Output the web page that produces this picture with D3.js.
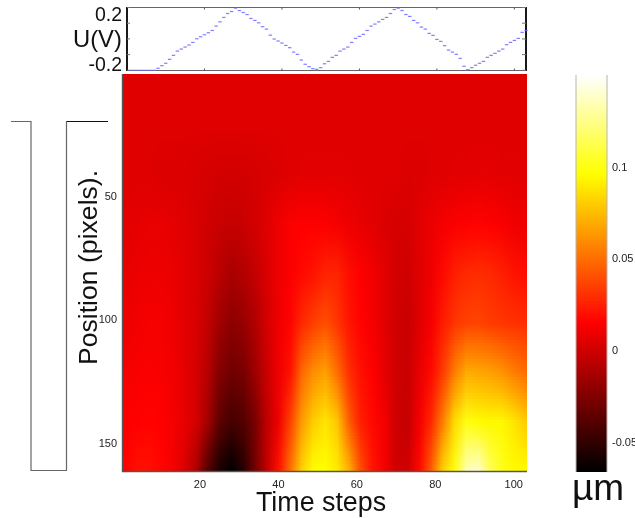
<!DOCTYPE html>
<html>
<head>
<meta charset="utf-8">
<script src="https://cdn.jsdelivr.net/npm/d3@7"></script>
<style>
    html, body { margin: 0; padding: 0; background: #fff; overflow: hidden; }
    #chart { position: relative; width: 635px; height: 518px; }
    #chart canvas, #chart svg { position: absolute; left: 0; top: 0; }
    text { font-family: "Liberation Sans", Arial, sans-serif; }
</style>
</head>
<body>
<div id="chart"></div>
<script>
// -> voltage, one value per time step (1..103)
var voltage = [
    -0.25, -0.25, -0.25, -0.25, -0.25, -0.25, -0.25, -0.234, -0.213, -0.194,
    -0.163, -0.131, -0.097, -0.081, -0.065, -0.049, -0.028, 0.001, 0.017, 0.033,
    0.049, 0.067, 0.102, 0.136, 0.171, 0.202, 0.218, 0.245, 0.226, 0.21,
    0.194, 0.163, 0.147, 0.128, 0.097, 0.078, 0.03, -0.001, -0.017, -0.033,
    -0.052, -0.07, -0.105, -0.123, -0.168, -0.202, -0.221, -0.237, -0.242, -0.229,
    -0.198, -0.179, -0.147, -0.131, -0.097, -0.081, -0.065, -0.028, 0.004, 0.02,
    0.036, 0.067, 0.102, 0.118, 0.136, 0.155, 0.171, 0.202, 0.234, 0.245,
    0.226, 0.194, 0.179, 0.147, 0.128, 0.094, 0.078, 0.044, 0.028, -0.004,
    -0.02, -0.054, -0.089, -0.105, -0.123, -0.155, -0.218, -0.245, -0.229, -0.21,
    -0.194, -0.179, -0.147, -0.131, -0.115, -0.097, -0.081, -0.046, -0.028, -0.012,
    0.004, 0.052, 0.067
];

// -> heat map samples, columns every 3 time steps, rows every 20 pixels
var timeSamples = [1, 4, 7, 10, 13, 16, 19, 22, 25, 28, 31, 34, 37, 40, 43, 46, 49, 52, 55, 58,
                   61, 64, 67, 70, 73, 76, 79, 82, 85, 88, 91, 94, 97, 100, 103];
var positionSamples = [1, 21, 41, 61, 81, 101, 121, 141, 161];

var row1 = [.005, .005, .005, .005, .005, .005, .005, .005, .005, .005, .005, .005, .005, .005, .005, .005, .005, .005, .005, .005,
            .005, .005, .005, .005, .005, .005, .005, .005, .005, .005, .005, .005, .005, .005, .005];
var row21 = [.005, .005, .005, .005, .005, .005, .005, .005, .005, .005, .005, .005, .005, .005, .005, .005, .005, .005, .005, .005,
             .005, .005, .005, .005, .005, .005, .005, .005, .005, .005, .005, .005, .005, .005, .005];
var row41 = [.005, .005, .005, .004, .004, .004, .003, .002, .001, .001, .001, .002, .003, .004, .005, .006, .006, .006, .006, .006,
             .005, .005, .005, .005, .004, .004, .005, .005, .006, .006, .007, .007, .006, .006, .006];
var row61 = [.006, .007, .008, .008, .007, .005, .003, .000, -.002, -.003, -.002, .001, .005, .010, .014, .015, .015, .014, .012, .010,
             .008, .006, .004, .002, .002, .006, .009, .012, .014, .015, .016, .015, .013, .011, .010];
var row81 = [.008, .009, .010, .010, .009, .006, .003, -.001, -.007, -.012, -.009, -.004, .003, .010, .014, .018, .021, .026, .026, .019,
             .015, .011, .006, .001, .000, .005, .010, .018, .025, .028, .029, .028, .025, .021, .019];
var row101 = [.010, .011, .012, .012, .010, .006, .003, -.004, -.015, -.021, -.018, -.010, .001, .010, .016, .028, .035, .040, .032, .022,
              .016, .012, .006, .000, -.002, .005, .012, .024, .032, .036, .037, .034, .032, .031, .030];
var row121 = [.012, .013, .014, .013, .011, .007, .002, -.008, -.024, -.030, -.028, -.016, -.002, .010, .020, .048, .060, .066, .050, .030,
              .020, .015, .007, .000, -.002, .008, .018, .034, .055, .070, .068, .066, .062, .055, .050];
var row141 = [.014, .015, .016, .015, .012, .008, .001, -.014, -.036, -.044, -.040, -.028, -.006, .010, .035, .065, .080, .088, .078, .045,
              .025, .018, .012, -.001, -.003, .012, .028, .056, .085, .100, .095, .094, .094, .088, .080];
var row161 = [.015, .020, .020, .017, .012, .004, -.010, -.040, -.058, -.066, -.055, -.030, -.005, .020, .050, .082, .096, .096, .090, .072,
              .040, .022, .012, .000, .000, .018, .045, .082, .100, .135, .140, .115, .102, .095, .095];
var heatRows = [row1, row21, row41, row61, row81, row101, row121, row141, row161];

// -> colour map stops (matlab "hot")
var hotStops = [-0.066, 0.015, 0.096, 0.15];
var hotColors = ["#000000", "#ff0000", "#ffff00", "#ffffff"];

// -> tick labels
var timeTicks = [20, 40, 60, 80, 100];
var positionTicks = [50, 100, 150];
var colorTicks = [-0.05, 0, 0.05, 0.1];
var voltageLabels = [-0.2, 0.2];
var voltageTicks = [-0.25, -0.125, 0, 0.125, 0.25];

var width = 635,
    height = 518;

var color = d3.scaleLinear().domain(hotStops).range(hotColors).clamp(true);

var x = d3.scaleLinear().domain([0.5, 103.5]).range([123, 527]),
    y = d3.scaleLinear().domain([0.5, 161.5]).range([74, 471]),
    xTop = d3.scaleLinear().domain([0, 103]).range([127, 526]),
    yTop = d3.scaleLinear().domain([-0.25, 0.25]).range([70.3, 7.5]),
    yBar = d3.scaleLinear().domain([-0.05, 0.1]).range([441.7, 166.7]);

var chart = d3.select("#chart");

var canvas = chart.append("canvas").attr("width", width).attr("height", height);
var ctx = canvas.node().getContext("2d");

//-> one pixel per sample, the browser smooths it when it gets stretched
var small = document.createElement("canvas");
small.width = timeSamples.length;
small.height = positionSamples.length;
var smallCtx = small.getContext("2d");
heatRows.forEach(function(row, j) {
    row.forEach(function(v, i) {
        smallCtx.fillStyle = color(v);
        smallCtx.fillRect(i, j, 1, 1);
    });
});

var stepT = timeSamples[1] - timeSamples[0],
    stepP = positionSamples[1] - positionSamples[0];

ctx.save();
ctx.beginPath();
ctx.rect(x(0.5), y(0.5), x(103.5) - x(0.5), y(161.5) - y(0.5));
ctx.clip();
ctx.imageSmoothingEnabled = true;
var left = x(timeSamples[0] - stepT / 2),
    right = x(timeSamples[timeSamples.length - 1] + stepT / 2),
    top_ = y(positionSamples[0] - stepP / 2),
    bottom = y(positionSamples[positionSamples.length - 1] + stepP / 2);
ctx.drawImage(small, left, top_, right - left, bottom - top_);
ctx.restore();

//-> colour bar
var barLeft = 576,
    barRight = 607,
    barTop = 75,
    barBottom = 472;
for (var py = barTop; py < barBottom; py++) {
    ctx.fillStyle = color(yBar.invert(py + 0.5));
    ctx.fillRect(barLeft, py, barRight - barLeft, 1);
}

var svg = chart.append("svg").attr("width", width).attr("height", height);

//-> the well sketch on the left
svg.append("path")
    .attr("d", "M11,121.5H31V470.5H66.5V121.5")
    .attr("fill", "none")
    .attr("stroke", "#666")
    .attr("stroke-width", 1.2);
svg.append("path")
    .attr("d", "M66.5,121.5H108")
    .attr("fill", "none")
    .attr("stroke", "#111")
    .attr("stroke-width", 1);

//-> heat map frame
svg.append("path")
    .attr("d", "M122.5,74V471.5H527")
    .attr("fill", "none")
    .attr("stroke", "#555")
    .attr("stroke-width", 1.4);

//-> heat map axes
var xAxis = svg.append("g")
    .attr("transform", "translate(0,477)")
    .call(d3.axisBottom(x).tickValues(timeTicks).tickSize(0).tickPadding(3));
var yAxis = svg.append("g")
    .attr("transform", "translate(121,0)")
    .call(d3.axisLeft(y).tickValues(positionTicks).tickSize(0).tickPadding(4));
[xAxis, yAxis].forEach(function(a) {
    a.select(".domain").remove();
    a.selectAll("text").attr("font-size", 11).attr("fill", "#222")
        .style("font-family", '"Liberation Sans", Arial, sans-serif');
});

svg.append("text")
    .attr("transform", "translate(97,365)rotate(-90)")
    .attr("font-size", 26.6)
    .attr("fill", "#111")
    .text("Position (pixels).");

svg.append("text")
    .attr("x", 256)
    .attr("y", 510.5)
    .attr("font-size", 26.8)
    .attr("fill", "#111")
    .text("Time steps");

//-> colour bar edges and labels
[barLeft, barRight].forEach(function(bx) {
    svg.append("line")
        .attr("x1", bx).attr("x2", bx)
        .attr("y1", barTop).attr("y2", barBottom)
        .attr("stroke", "#b5b5b5")
        .attr("stroke-width", 1);
});

var plainLabel = function(d) { return String(d); };

var barAxis = svg.append("g")
    .attr("transform", "translate(609,0)")
    .call(d3.axisRight(yBar).tickValues(colorTicks).tickFormat(plainLabel).tickSize(0).tickPadding(3));
barAxis.select(".domain").remove();
barAxis.selectAll("text").attr("font-size", 11).attr("fill", "#222")
    .style("font-family", '"Liberation Sans", Arial, sans-serif');

svg.append("text")
    .attr("x", 572)
    .attr("y", 500)
    .attr("font-size", 37)
    .attr("fill", "#111")
    .text("\u00b5m");

//-> top panel, the applied voltage
var topGroup = svg.append("g");

topGroup.append("path")
    .attr("d", "M127,7.5H526M127,70.5H526")
    .attr("fill", "none")
    .attr("stroke", "#666")
    .attr("stroke-width", 1);
topGroup.append("path")
    .attr("d", "M127,7V71M526,7V71")
    .attr("fill", "none")
    .attr("stroke", "#000")
    .attr("stroke-width", 1.8);

timeTicks.forEach(function(t) {
    topGroup.append("path")
        .attr("d", "M" + xTop(t) + ",7.5v2M" + xTop(t) + ",70.5v-2")
        .attr("stroke", "#555");
});
voltageTicks.forEach(function(v) {
    topGroup.append("path")
        .attr("d", "M127," + yTop(v) + "h3M526," + yTop(v) + "h-4")
        .attr("stroke", "#777");
});

topGroup.selectAll(".dash")
    .data(voltage)
    .enter().append("rect")
    .attr("class", "dash")
    .attr("x", function(d, i) { return xTop(i + 1) - 1.7; })
    .attr("y", function(d) { return yTop(d) - 0.6; })
    .attr("width", 3.4)
    .attr("height", 1.2)
    .attr("fill", "#6a6aff")
    .attr("opacity", 0.85);

var voltAxis = svg.append("g")
    .attr("transform", "translate(125,0)")
    .call(d3.axisLeft(yTop).tickValues(voltageLabels).tickFormat(plainLabel).tickSize(0).tickPadding(3));
voltAxis.select(".domain").remove();
voltAxis.selectAll("text").attr("font-size", 19.5).attr("fill", "#111")
    .style("font-family", '"Liberation Sans", Arial, sans-serif');

svg.append("text")
    .attr("x", 73)
    .attr("y", 46.5)
    .attr("font-size", 23.8)
    .attr("fill", "#111")
    .text("U(V)");
</script>
</body>
</html>
